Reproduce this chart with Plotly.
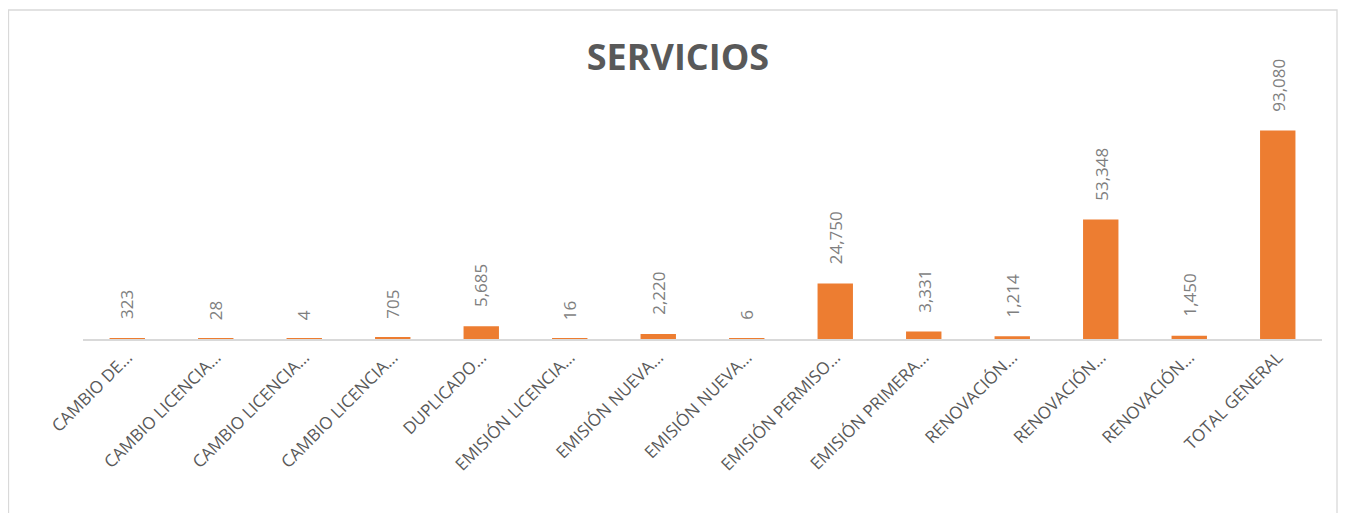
import plotly.graph_objects as go

categories = [
    "CAMBIO DE…", "CAMBIO LICENCIA…", "CAMBIO LICENCIA…", "CAMBIO LICENCIA…",
    "DUPLICADO…", "EMISIÓN LICENCIA…", "EMISIÓN NUEVA…", "EMISIÓN NUEVA…",
    "EMISIÓN PERMISO…", "EMISIÓN PRIMERA…", "RENOVACIÓN…", "RENOVACIÓN…",
    "RENOVACIÓN…", "TOTAL GENERAL",
]
values = [323, 28, 4, 705, 5685, 16, 2220, 6, 24750, 3331, 1214, 53348, 1450, 93080]
title_text = "SERVICIOS"

# page body has an 8px default margin: keep the figure inside the visible window
OFF = 8
W, H = 1330, 505
ML = 83 - OFF
MR = W - (1322 - OFF)
MT = 115 - OFF
MB = H - (339 - OFF)
PW, PH = W - ML - MR, H - MT - MB

x_idx = list(range(len(categories)))

fig = go.Figure(go.Bar(
    x=x_idx, y=values,
    marker=dict(color="#ED7D31", line=dict(width=0)),
    width=0.4,
    hoverinfo="skip",
))

for i, v in zip(x_idx, values):
    fig.add_annotation(
        x=i, y=v, xref="x", yref="y",
        text=f"{v:,}", textangle=-90, showarrow=False,
        yanchor="bottom", xanchor="center", yshift=17,
        font=dict(family="Open Sans", size=17, color="#7F7F7F"),
    )

# chart frame
fig.add_shape(
    type="rect", xref="paper", yref="paper",
    x0=(0.5 - ML) / PW, x1=(W - 1 - ML) / PW,
    y0=-(MB + 20) / PH, y1=(PH + MT - (10 - OFF)) / PH,
    line=dict(color="#D9D9D9", width=1.3), fillcolor="rgba(0,0,0,0)", layer="below",
)

fig.update_layout(
    width=W, height=H,
    margin=dict(l=ML, r=MR, t=MT, b=MB, autoexpand=False),
    paper_bgcolor="white", plot_bgcolor="white",
    showlegend=False,
    title=dict(
        text=f"<b>{title_text}</b>", x=(678 - OFF) / W, xref="container", xanchor="center",
        y=1 - (57 - OFF) / H, yref="container", yanchor="middle",
        font=dict(family="Open Sans", size=36, color="#595959"),
    ),
    xaxis=dict(
        tickmode="array", tickvals=x_idx, ticktext=categories,
        tickangle=-45, range=[-0.5, len(categories) - 0.5],
        showgrid=False, zeroline=False, showline=True,
        linecolor="#D9D9D9", linewidth=1.5, ticks="",
        tickfont=dict(family="Open Sans", size=17, color="#595959"),
        fixedrange=True,
    ),
    yaxis=dict(
        range=[0, 100000], visible=False, showgrid=False, zeroline=False,
        fixedrange=True,
    ),
)

fig.write_html("out.html")
